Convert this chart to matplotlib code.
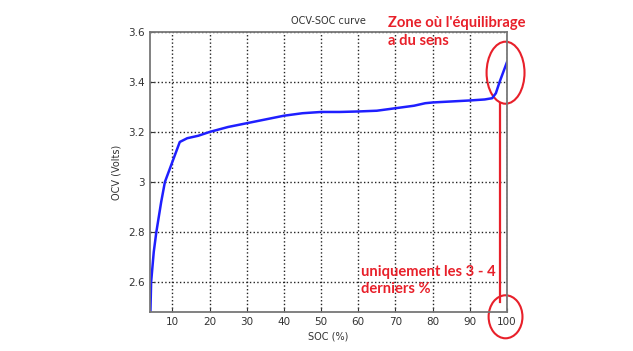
import matplotlib.pyplot as plt
from matplotlib.patches import Ellipse

# OCV-SOC curve
soc = [4.1, 4.3, 5.0, 5.7, 7.0, 8.0, 10.0, 12.0, 14.0, 17.0, 20.0, 25.0, 30.0, 35.0,
       40.0, 45.0, 50.0, 55.0, 60.0, 65.0, 70.0, 75.0, 78.0, 80.0, 85.0, 90.0,
       94.0, 96.0, 97.0, 98.0, 99.0, 100.0]
ocv = [2.48, 2.60, 2.72, 2.80, 2.92, 3.00, 3.08, 3.16, 3.175, 3.185, 3.20, 3.22,
       3.235, 3.25, 3.265, 3.275, 3.28, 3.28, 3.282, 3.285, 3.295, 3.305, 3.315,
       3.318, 3.322, 3.326, 3.33, 3.335, 3.355, 3.40, 3.44, 3.48]

xticks = [10, 20, 30, 40, 50, 60, 70, 80, 90, 100]
yticks = [2.6, 2.8, 3.0, 3.2, 3.4, 3.6]
ytick_labels = ['2.6', '2.8', '3', '3.2', '3.4', '3.6']

red = '#e8202a'

fig = plt.figure(figsize=(6.33, 3.51), dpi=100)
ax = fig.add_axes([0.237, 0.111, 0.564, 0.798])

ax.plot(soc, ocv, color='#1f1fff', linewidth=1.8)
ax.set_xlim(4, 100)
ax.set_ylim(2.48, 3.6)
ax.set_xticks(xticks)
ax.set_yticks(yticks)
ax.set_yticklabels(ytick_labels)
ax.grid(True, linestyle=':', color='#222222', linewidth=1.0)
ax.tick_params(labelsize=7.5, colors='#333333', direction='in', length=3)
for s in ax.spines.values():
    s.set_color('#777777')
    s.set_linewidth(1.3)

ax.set_title('OCV-SOC curve', fontsize=7, color='#333333', pad=6)
ax.set_xlabel('SOC (%)', fontsize=7, color='#333333', labelpad=3)
ax.set_ylabel('OCV (Volts)', fontsize=7, color='#333333', labelpad=5)

# red annotations
ax.add_patch(Ellipse((99.6, 3.437), 10.2, 0.248, fill=False, edgecolor=red,
                     linewidth=1.5, clip_on=False))
ax.add_patch(Ellipse((99.6, 2.461), 9.1, 0.172, fill=False, edgecolor=red,
                     linewidth=1.5, clip_on=False))
ax.plot([98, 98], [2.52, 3.315], color=red, linewidth=1.6, clip_on=False)

ax.text(68.1, 3.665, "Zone où l'équilibrage\na du sens", color=red,
        fontsize=10.6, fontweight='bold', family='Lato', va='top', ha='left',
        linespacing=1.35)
ax.text(60.7, 2.67, "uniquement les 3 - 4\nderniers %", color=red,
        fontsize=10.6, fontweight='bold', family='Lato', va='top', ha='left',
        linespacing=1.35)

fig.savefig('out.png', dpi=100)
